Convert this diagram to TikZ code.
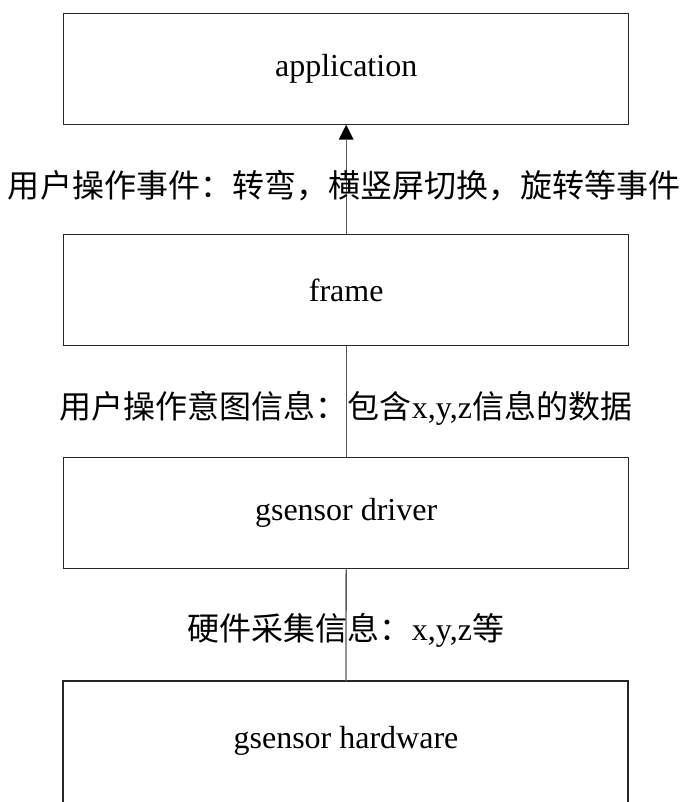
\documentclass[tikz,border=0pt]{standalone}
\usepackage{fontspec}
\setmainfont{Liberation Serif}
\newfontfamily\cjk{Noto Sans CJK SC}
\usetikzlibrary{arrows.meta}
\begin{document}
\begin{tikzpicture}[x=1pt,y=-1pt,
  boxline/.style={draw=black!85, line width=1.3pt},
  conn/.style={draw=black!65, line width=1.3pt},
  boxtext/.style={font=\fontsize{32}{36}\selectfont, inner sep=0pt},
  lbl/.style={font=\fontsize{32}{36}\selectfont, inner sep=0pt}]
\useasboundingbox (0,0) rectangle (682,802);
% boxes
\node[boxline, minimum width=565pt, minimum height=111pt, anchor=north west, inner sep=0pt] (app) at (63,13) {};
\node[boxline, minimum width=565pt, minimum height=111pt, anchor=north west, inner sep=0pt] (frame) at (63,234) {};
\node[boxline, minimum width=565pt, minimum height=111pt, anchor=north west, inner sep=0pt] (drv) at (63,457) {};
\coordinate (hwtl) at (63,681);
\coordinate (hwtr) at (628,681);
\coordinate (hwbl) at (63,802);
\coordinate (hwbr) at (628,802);
\draw[boxline] (hwbl) -- (hwtl) -- (hwtr) -- (hwbr);
\coordinate (hwtop) at (346,681);
% texts
\node[boxtext] (tapp) at (app.center) {application};
\node[boxtext] (tframe) at (frame.center) {frame};
\node[boxtext] (tdrv) at (drv.center) {gsensor driver};
\node[boxtext] (thw) at (346,741) {gsensor hardware};
% connectors
\draw[conn, shorten >=-0.6pt, -{Triangle[length=15pt,width=15pt,fill=black,line width=0pt]}] (frame.north) -- (app.south);
\draw[conn] (drv.north) -- (frame.south);
\draw[conn] (hwtop) -- (drv.south);
% labels
\node[lbl] (l1) at (344,186) {\cjk 用户操作事件：转弯，横竖屏切换，旋转等事件};
\node[lbl] (l2) at (346,408) {\cjk 用户操作意图信息：包含{\rmfamily x,y,z}信息的数据};
\node[lbl] (l3) at (346,630) {\cjk 硬件采集信息：{\rmfamily x,y,z}等};
\end{tikzpicture}
\end{document}
